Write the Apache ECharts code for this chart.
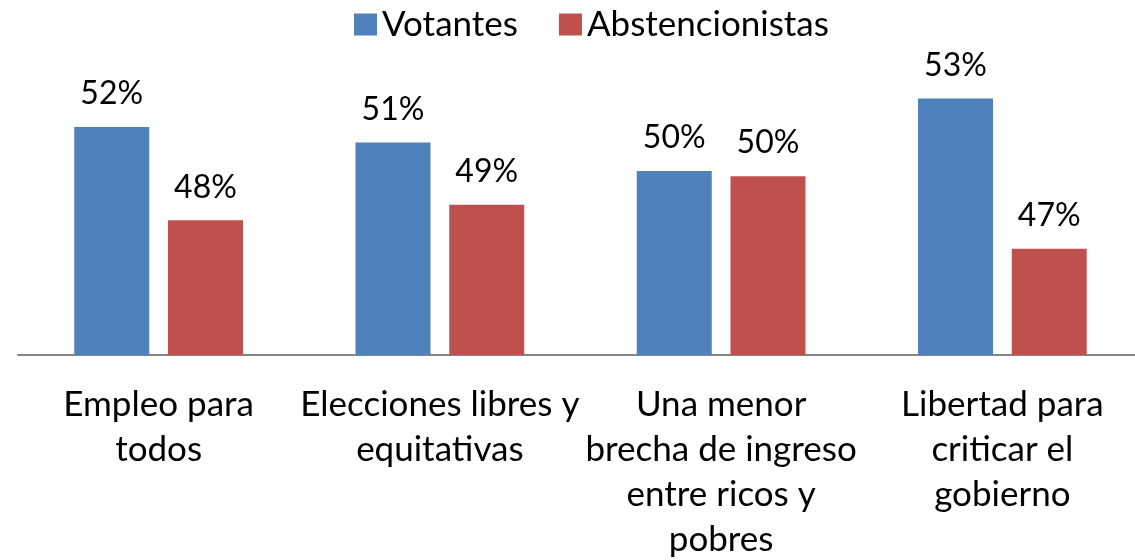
<!DOCTYPE html>
<html>
<head>
<meta charset="utf-8">
<script src="https://cdn.jsdelivr.net/npm/echarts@6/dist/echarts.min.js"></script>
<style>
  html, body { margin: 0; padding: 0; background: #fff; }
  #chart { width: 1135px; height: 560px; }
</style>
</head>
<body>
<div id="chart"></div>
<script>
  // categorias y valores (porcentajes)
  var categories = [
    'Empleo para\ntodos',
    'Elecciones libres y\nequitativas',
    'Una menor\nbrecha de ingreso\nentre ricos y\npobres',
    'Libertad para\ncriticar el\ngobierno'
  ];
  var votantes = [51.8, 51.2, 50.1, 52.9];
  var abstencionistas = [48.2, 48.8, 49.9, 47.1];
  var seriesNames = ['Votantes', 'Abstencionistas'];

  var fontFamily = 'Lato, "Open Sans", sans-serif';

  var myChart = echarts.init(document.getElementById('chart'));

  var labelStyle = {
    show: true,
    position: 'top',
    distance: 17,
    color: '#000',
    fontFamily: fontFamily,
    fontSize: 32,
    formatter: function (p) { return Math.round(p.value) + '%'; }
  };

  myChart.setOption({
    animation: false,
    legend: {
      data: seriesNames,
      left: 349,
      top: 2,
      itemWidth: 23,
      itemHeight: 22,
      itemGap: 41,
      icon: 'rect',
      textStyle: { fontFamily: fontFamily, fontSize: 35, color: '#000' }
    },
    grid: {
      left: 18,
      width: 1125,
      top: 44,
      bottom: 205,
      containLabel: false,
      outerBoundsMode: 'none'
    },
    xAxis: {
      type: 'category',
      data: categories,
      axisLine: { lineStyle: { color: '#868686', width: 2 } },
      axisTick: { show: false },
      axisLabel: {
        interval: 0,
        margin: 27,
        color: '#000',
        fontFamily: fontFamily,
        fontSize: 35,
        lineHeight: 45
      }
    },
    yAxis: {
      type: 'value',
      min: 43,
      max: 55,
      show: false,
      splitLine: { show: false }
    },
    series: [
      {
        name: seriesNames[0],
        type: 'bar',
        data: votantes,
        barWidth: 75,
        barGap: '25%',
        itemStyle: { color: '#4F81BD' },
        label: labelStyle
      },
      {
        name: seriesNames[1],
        type: 'bar',
        data: abstencionistas,
        barWidth: 75,
        barGap: '25%',
        itemStyle: { color: '#C0504D' },
        label: labelStyle
      }
    ]
  });
</script>
</body>
</html>
